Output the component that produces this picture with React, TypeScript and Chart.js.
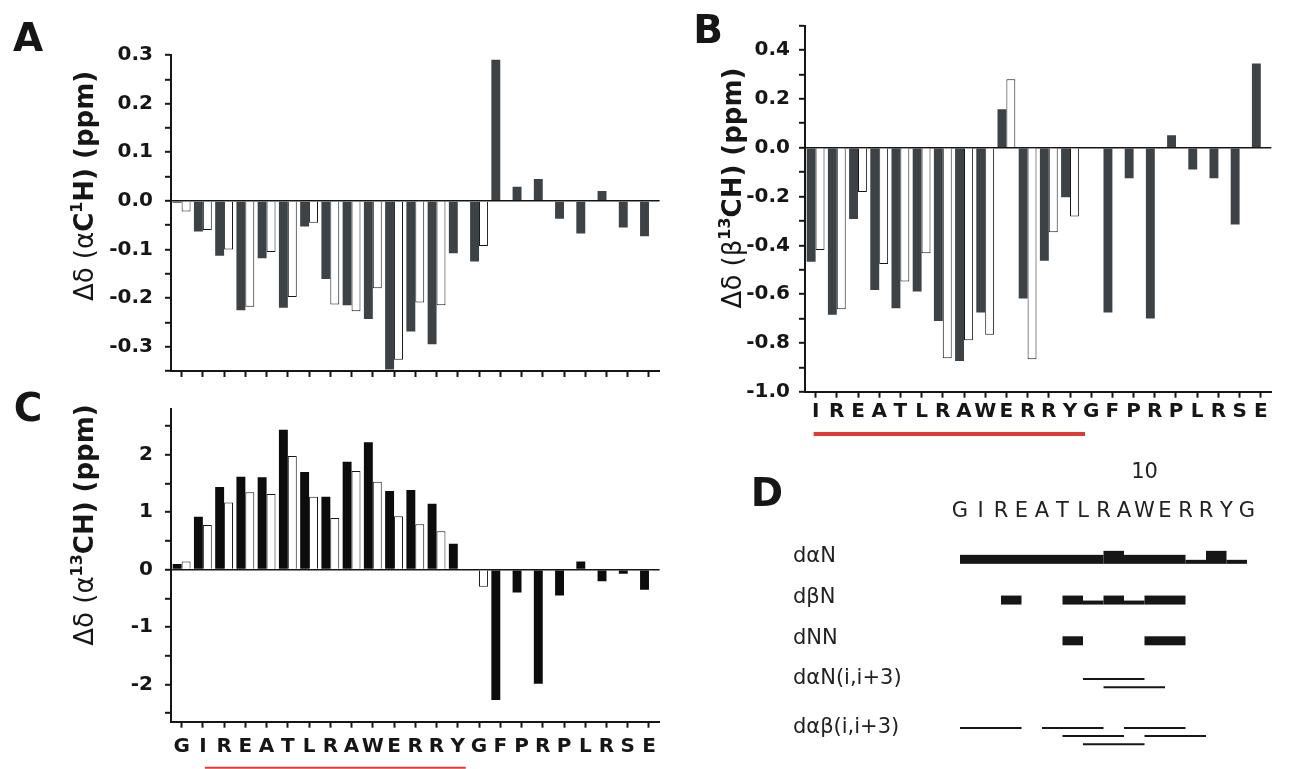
import React, { useEffect, useRef } from "react";
import { Chart, registerables } from "chart.js";

Chart.register(...registerables);

const FONT = "'DejaVu Sans', 'Liberation Sans', Arial, sans-serif";

// ---------- data ----------
// residues 1..23 for panels A and C (G1 ... E23)
const residuesAC = ["G", "I", "R", "E", "A", "T", "L", "R", "A", "W", "E", "R", "R", "Y", "G", "F", "P", "R", "P", "L", "R", "S", "E"];
// residues 2..23 for panel B
const residuesB = ["I", "R", "E", "A", "T", "L", "R", "A", "W", "E", "R", "R", "Y", "G", "F", "P", "R", "P", "L", "R", "S", "E"];

// Panel A: Δδ(αC1H) (ppm)
const aFilled = [-0.004, -0.063, -0.113, -0.225, -0.118, -0.22, -0.053, -0.161, -0.215, -0.243, -0.347, -0.269, -0.295, -0.108, -0.125, 0.29, 0.029, 0.045, -0.037, -0.067, 0.02, -0.055, -0.073];
const aOpen = [-0.022, -0.06, -0.1, -0.218, -0.105, -0.198, -0.045, -0.213, -0.227, -0.18, -0.327, -0.209, -0.215, null, -0.093, null, null, null, null, null, null, null, null];

// Panel B: Δδ(β13CH) (ppm)
const bFilled = [-0.467, -0.685, -0.292, -0.583, -0.658, -0.589, -0.71, -0.874, -0.675, 0.158, -0.618, -0.463, -0.203, null, -0.675, -0.125, -0.7, 0.051, -0.089, -0.125, -0.315, 0.345];
const bOpen = [-0.419, -0.662, -0.182, -0.477, -0.548, -0.433, -0.863, -0.789, -0.767, 0.281, -0.867, -0.347, -0.282, null, null, null, null, null, null, null, null, null];

// Panel C: Δδ(α13CH) (ppm)
const cFilled = [0.1, 0.92, 1.44, 1.62, 1.61, 2.44, 1.7, 1.27, 1.88, 2.22, 1.37, 1.39, 1.15, 0.45, null, -2.27, -0.4, -1.99, -0.45, 0.14, -0.2, -0.07, -0.35];
const cOpen = [0.14, 0.78, 1.17, 1.35, 1.32, 1.98, 1.27, 0.9, 1.72, 1.53, 0.93, 0.79, 0.67, null, -0.3, null, null, null, null, null, null, null, null];

// y ticks (all tick marks) and labelled ticks
const aTicks = [0.3, 0.25, 0.2, 0.15, 0.1, 0.05, 0, -0.05, -0.1, -0.15, -0.2, -0.25, -0.3, -0.35];
const aLabeled = [0.3, 0.2, 0.1, 0, -0.1, -0.2, -0.3];
const bTicks = [0.5, 0.4, 0.3, 0.2, 0.1, 0, -0.1, -0.2, -0.3, -0.4, -0.5, -0.6, -0.7, -0.8, -0.9, -1.0];
const bLabeled = [0.4, 0.2, 0, -0.2, -0.4, -0.6, -0.8, -1.0];
const cTicks = [2.5, 2, 1.5, 1, 0.5, 0, -0.5, -1, -1.5, -2, -2.5];
const cLabeled = [2, 1, 0, -1, -2];

// helix region underlined (residue numbers)
const helixFirst = 2;
const helixLast = 14;

// Panel D: NOE connectivities, residues 1..15
const seqD = ["G", "I", "R", "E", "A", "T", "L", "R", "A", "W", "E", "R", "R", "Y", "G"];
const numberedResidues = [10];
const rowNames = ["dαN", "dβN", "dNN", "dαN(i,i+3)", "dαβ(i,i+3)"];
// [from, to, strength(1 weak,2 medium,3 strong)]
const dAlphaN = [[1, 8, 2], [8, 9, 3], [9, 12, 2], [12, 13, 1], [13, 14, 3], [14, 15, 1]];
const dBetaN = [[3, 4, 2], [6, 7, 2], [7, 8, 1], [8, 9, 2], [9, 10, 1], [10, 12, 2]];
const dNN = [[6, 7, 2], [10, 12, 2]];
// [from, to, lane]
const dAlphaNi3 = [[7, 10, 0], [8, 11, 1]];
const dAlphaBetai3 = [[1, 4, 0], [5, 8, 0], [9, 12, 0], [6, 9, 1], [10, 13, 1], [7, 10, 2]];

// ---------- styles ----------
const INK = "#161616";
const DARK = "#3c4246";
const BLACK = "#0c0c0c";
const RED = "#e03a36";
const TICK_FONT = { family: FONT, size: 20, weight: "bold" as const };

type Part = { text: string; weight: string; size: number; dy?: number };

function makeTitlePlugin(parts: Part[], cx: number, cy: number) {
  return {
    id: "mixedTitle",
    afterDraw(chart: any) {
      const ctx = chart.ctx;
      ctx.save();
      ctx.translate(cx, cy);
      ctx.rotate(-Math.PI / 2);
      ctx.fillStyle = INK;
      ctx.textBaseline = "middle";
      let total = 0;
      const widths = parts.map((p) => {
        ctx.font = `${p.weight} ${p.size}px ${FONT}`;
        const w = ctx.measureText(p.text).width;
        total += w;
        return w;
      });
      let x = -total / 2;
      parts.forEach((p, i) => {
        ctx.font = `${p.weight} ${p.size}px ${FONT}`;
        ctx.fillText(p.text, x, p.dy || 0);
        x += widths[i];
      });
      ctx.restore();
    },
  };
}

function makeUnderlinePlugin(i0: number, i1: number, dx0: number, dx1: number, dy: number, width: number) {
  return {
    id: "helixUnderline",
    afterDraw(chart: any) {
      const { ctx, chartArea } = chart;
      const xs = chart.scales.x;
      const y = chartArea.bottom + dy;
      ctx.save();
      ctx.strokeStyle = RED;
      ctx.lineWidth = width;
      ctx.beginPath();
      ctx.moveTo(xs.getPixelForValue(i0) + dx0, y);
      ctx.lineTo(xs.getPixelForValue(i1) + dx1, y);
      ctx.stroke();
      ctx.restore();
    },
  };
}

type BarPanel = {
  labels: string[];
  filled: (number | null)[];
  open: (number | null)[];
  fillColor: string;
  min: number;
  max: number;
  ticks: number[];
  labeled: number[];
  decimals: number;
  padding: { top: number; right: number; bottom: number; left: number };
  yWidth: number;
  xHeight: number;
  showX: boolean;
  xPad: number;
  yPad: number;
  plugins: any[];
};

function barConfig(p: BarPanel): any {
  const isLabeled = (v: number) => p.labeled.some((l) => Math.abs(l - v) < 1e-9);
  return {
    type: "bar",
    data: {
      labels: p.labels,
      datasets: [
        { data: p.filled, backgroundColor: p.fillColor, borderColor: p.fillColor, borderWidth: 0 },
        { data: p.open, backgroundColor: "#ffffff", borderColor: INK, borderWidth: 1 },
      ],
    },
    options: {
      animation: false,
      responsive: false,
      maintainAspectRatio: false,
      events: [],
      layout: { padding: p.padding },
      plugins: { legend: { display: false }, tooltip: { enabled: false }, title: { display: false } },
      datasets: { bar: { categoryPercentage: 0.84, barPercentage: 1 } },
      scales: {
        x: {
          offset: true,
          grid: { display: true, drawOnChartArea: false, drawTicks: true, tickLength: 6, tickWidth: 2, tickColor: INK, offset: false },
          border: { display: true, color: INK, width: 2 },
          ticks: { display: p.showX, autoSkip: false, maxRotation: 0, minRotation: 0, font: TICK_FONT, color: INK, padding: p.xPad },
          afterFit: (s: any) => { s.height = p.xHeight; },
        },
        y: {
          min: p.min,
          max: p.max,
          afterBuildTicks: (s: any) => { s.ticks = p.ticks.map((v) => ({ value: v })); },
          ticks: {
            autoSkip: false,
            font: TICK_FONT,
            color: INK,
            padding: p.yPad,
            callback: (v: number) => (isLabeled(v) ? Number(v).toFixed(p.decimals) : ""),
          },
          grid: {
            drawOnChartArea: true,
            drawTicks: true,
            tickLength: 6,
            tickWidth: 2,
            tickColor: INK,
            lineWidth: 1.6,
            color: (c: any) => (c.tick && Math.abs(c.tick.value) < 1e-9 ? INK : "rgba(0,0,0,0)"),
          },
          border: { display: true, color: INK, width: 2 },
          afterFit: (s: any) => { s.width = p.yWidth; },
        },
      },
    },
    plugins: p.plugins,
  };
}

const BAR_BASE = 7;
const THICK: Record<number, number> = { 1: 4, 2: 9, 3: 13 };
const LANE_GAP = 0.2;

function dConfig(): any {
  const rows = [
    { kind: "bar", segs: dAlphaN },
    { kind: "bar", segs: dBetaN },
    { kind: "bar", segs: dNN },
    { kind: "line", segs: dAlphaNi3 },
    { kind: "line", segs: dAlphaBetai3 },
  ];
  const rowPos: number[] = [];
  rows.forEach((r, i) => {
    if (i === 0) { rowPos.push(0); return; }
    const prev = rows[i - 1];
    const lanes = prev.kind === "line" ? Math.max(...prev.segs.map((s) => s[2])) + 1 : 1;
    rowPos.push(rowPos[i - 1] + 1 + LANE_GAP * (lanes - 1));
  });
  const lastRow = rows[rows.length - 1];
  const lastLanes = Math.max(...lastRow.segs.map((s) => s[2])) + 1;

  const noePlugin = {
    id: "noe",
    afterDatasetsDraw(chart: any) {
      const { ctx } = chart;
      const xs = chart.scales.x;
      const ys = chart.scales.y;
      ctx.save();
      ctx.fillStyle = INK;
      ctx.strokeStyle = INK;
      rows.forEach((row, ri) => {
        row.segs.forEach(([a, b, s]) => {
          const x0 = xs.getPixelForValue(a);
          const x1 = xs.getPixelForValue(b);
          if (row.kind === "bar") {
            const base = ys.getPixelForValue(rowPos[ri]) + BAR_BASE;
            const h = THICK[s];
            ctx.fillRect(x0, base - h, x1 - x0, h);
          } else {
            const yy = ys.getPixelForValue(rowPos[ri] + s * LANE_GAP);
            ctx.lineWidth = 2;
            ctx.beginPath();
            ctx.moveTo(x0, yy);
            ctx.lineTo(x1, yy);
            ctx.stroke();
          }
        });
      });
      ctx.restore();
    },
  };

  const hidden = { display: false, drawTicks: false };
  return {
    type: "scatter",
    data: { datasets: [] },
    options: {
      animation: false,
      responsive: false,
      maintainAspectRatio: false,
      events: [],
      layout: { padding: { left: 53, right: 43.5, top: 3.4, bottom: 2.3 } },
      plugins: { legend: { display: false }, tooltip: { enabled: false } },
      scales: {
        x: {
          type: "linear",
          position: "top",
          min: 0,
          max: 16,
          weight: 0,
          grid: hidden,
          border: { display: false },
          afterBuildTicks: (s: any) => { s.ticks = seqD.map((_, i) => ({ value: i + 1 })); },
          ticks: { font: { family: FONT, size: 21 }, color: "#222", padding: 8, autoSkip: false, maxRotation: 0, callback: (v: number) => seqD[v - 1] },
          afterFit: (s: any) => { s.height = 34; },
        },
        x2: {
          type: "linear",
          position: "top",
          min: 0,
          max: 16,
          weight: 1,
          grid: hidden,
          border: { display: false },
          afterBuildTicks: (s: any) => { s.ticks = numberedResidues.map((v) => ({ value: v })); },
          ticks: { font: { family: FONT, size: 21 }, color: "#222", padding: 13, autoSkip: false, callback: (v: number) => String(v) },
          afterFit: (s: any) => { s.height = 40; },
        },
        y: {
          type: "linear",
          reverse: true,
          min: -0.6,
          max: rowPos[rowPos.length - 1] + LANE_GAP * (lastLanes - 1) + 0.3,
          grid: hidden,
          border: { display: false },
          afterBuildTicks: (s: any) => { s.ticks = rowPos.map((v) => ({ value: v })); },
          ticks: { font: { family: FONT, size: 21 }, color: "#222", crossAlign: "far", padding: 0, autoSkip: false, callback: (_v: number, i: number) => rowNames[i] },
          afterFit: (s: any) => { s.width = 146.5; },
        },
      },
    },
    plugins: [noePlugin],
  };
}

function ChartCanvas({ left, top, width, height, make }: { left: number; top: number; width: number; height: number; make: () => any }) {
  const ref = useRef<HTMLCanvasElement | null>(null);
  useEffect(() => {
    if (!ref.current) return;
    const chart = new Chart(ref.current, make());
    return () => chart.destroy();
  }, []);
  return (
    <canvas
      ref={ref}
      width={width}
      height={height}
      style={{ position: "absolute", left, top, width, height, display: "block" }}
    />
  );
}

const panelLetter = (text: string, x: number, y: number) => (
  <div
    key={text}
    style={{
      position: "absolute",
      left: x,
      top: y,
      transform: "translate(-50%, -50%)",
      font: `bold 39px ${FONT}`,
      color: INK,
      lineHeight: 1,
    }}
  >
    {text}
  </div>
);

export default function App() {
  const titleSize = 26;
  const makeA = () =>
    barConfig({
      labels: residuesAC,
      filled: aFilled,
      open: aOpen,
      fillColor: DARK,
      min: -0.35,
      max: 0.3,
      ticks: aTicks,
      labeled: aLabeled,
      decimals: 1,
      padding: { top: 55, right: 20.4, bottom: 0, left: 0 },
      yWidth: 171,
      xHeight: 12,
      showX: false,
      xPad: 0,
      yPad: 12,
      plugins: [
        makeTitlePlugin(
          [
            { text: "Δδ (α", weight: "normal", size: titleSize },
            { text: "C", weight: "bold", size: titleSize },
            { text: "1", weight: "bold", size: 16, dy: -8 },
            { text: "H) (ppm)", weight: "bold", size: titleSize },
          ],
          86,
          186
        ),
      ],
    });
  const makeC = () =>
    barConfig({
      labels: residuesAC,
      filled: cFilled,
      open: cOpen,
      fillColor: BLACK,
      min: -2.65,
      max: 2.8,
      ticks: cTicks,
      labeled: cLabeled,
      decimals: 0,
      padding: { top: 8.3, right: 20.4, bottom: 0, left: 0 },
      yWidth: 171,
      xHeight: 47.3,
      showX: true,
      xPad: 7,
      yPad: 12,
      plugins: [
        makeTitlePlugin(
          [
            { text: "Δδ (α", weight: "normal", size: titleSize },
            { text: "13", weight: "bold", size: 16, dy: -8 },
            { text: "CH) (ppm)", weight: "bold", size: titleSize },
          ],
          86,
          140
        ),
        makeUnderlinePlugin(helixFirst - 1, helixLast - 1, 2, 8, 46, 2),
      ],
    });
  const makeB = () =>
    barConfig({
      labels: residuesB,
      filled: bFilled,
      open: bOpen,
      fillColor: DARK,
      min: -1.0,
      max: 0.5,
      ticks: bTicks,
      labeled: bLabeled,
      decimals: 1,
      padding: { top: 25.7, right: 39.6, bottom: 0, left: 0 },
      yWidth: 115,
      xHeight: 53.3,
      showX: true,
      xPad: 2.3,
      yPad: 9,
      plugins: [
        makeTitlePlugin(
          [
            { text: "Δδ (β", weight: "normal", size: titleSize },
            { text: "13", weight: "bold", size: 16, dy: -8 },
            { text: "CH) (ppm)", weight: "bold", size: titleSize },
          ],
          44,
          188
        ),
        makeUnderlinePlugin(helixFirst - 2, helixLast - 2, -2, 15, 42.3, 4),
      ],
    });

  return (
    <div style={{ position: "fixed", left: 0, top: 0, width: 1311, height: 769, background: "#fff", overflow: "hidden" }}>
      <ChartCanvas left={0} top={0} width={680} height={395} make={makeA} />
      <ChartCanvas left={0} top={385} width={680} height={384} make={makeC} />
      <ChartCanvas left={690} top={0} width={621} height={445} make={makeB} />
      <ChartCanvas left={740} top={455} width={571} height={314} make={dConfig} />
      {panelLetter("A", 28, 37)}
      {panelLetter("B", 708, 29)}
      {panelLetter("C", 28, 407)}
      {panelLetter("D", 767, 492)}
    </div>
  );
}
